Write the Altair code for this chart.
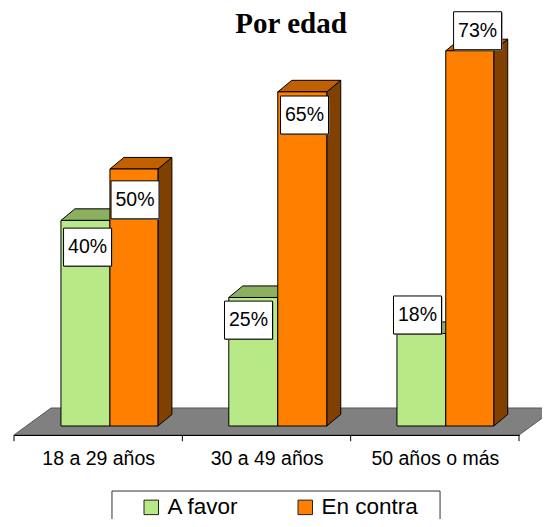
import altair as alt
import pandas as pd

categories = ["18 a 29 años", "30 a 49 años", "50 años o más"]
series = ["A favor", "En contra"]
a_favor = [40, 25, 18]
en_contra = [50, 65, 73]
# label box centres (percent units)
label_y_favor = [34.8, 20.6, 21.6]
label_y_contra = [44, 60.5, 76.9]
label_x_favor = [0.437, 0.393, 0.397]
label_x_contra = [0.719, 0.726, 0.754]

tick_values = [0, 1, 2, 3]
left_edge = [0.279, 0.276, 0.275]
mid_edge = [0.570, 0.567, 0.565]
right_edge = [0.855, 0.858, 0.850]

DX = 0.083   # depth in category units
DY = 2.25    # depth in percent units
FLOOR_FRONT = -1.75
FLOOR_BACK = 3.5
FLOOR_DX = 0.22
TICK_END = -2.95

GREEN, GREEN_TOP = "#B8E986", "#8DB060"
ORANGE, ORANGE_TOP, ORANGE_SIDE = "#FF8000", "#C06000", "#804000"
FONT = "Liberation Sans"

xs = alt.Scale(domain=[0, 3], nice=False, zero=False)
ys = alt.Scale(domain=[FLOOR_FRONT, 81.32], nice=False, zero=False)

label_map = " : ".join(
    f"datum.value < {i + 1} ? '{c}'" for i, c in enumerate(categories[:-1])
) + f" : '{categories[-1]}'"

X = alt.X("x:Q", scale=xs, title=None,
          axis=alt.Axis(values=[0.5, 1.5, 2.5], labelExpr=label_map, tickSize=0, grid=False,
                        domainColor="#000000", domainWidth=1, labelFont=FONT, labelFontSize=19.5,
                        labelColor="#000000", labelPadding=14, labelAngle=0, zindex=1))
Y = alt.Y("y:Q", scale=ys, title=None, axis=None)

floor_df = pd.DataFrame({"y": [FLOOR_FRONT, FLOOR_BACK], "x": [0, FLOOR_DX], "x2": [3, 3 + FLOOR_DX]})
floor = alt.Chart(floor_df).mark_area(orient="horizontal", color="#808080", stroke="#555555", strokeWidth=1).encode(
    y=Y, x=X, x2="x2:Q")

ticks = alt.Chart(pd.DataFrame({"x": tick_values, "y": [FLOOR_FRONT] * 4, "y2": [TICK_END] * 4})).mark_rule(
    color="#000000", strokeWidth=1).encode(x=X, y=Y, y2="y2:Q")

legend_box = alt.Chart(pd.DataFrame({"x": [0.582], "x2": [2.531], "y": [-12.65], "y2": [-25.0]})).mark_rect(
    color="#FFFFFF", stroke="#333333", strokeWidth=1).encode(x=X, x2="x2:Q", y=Y, y2="y2:Q")

color = alt.Color("s:N", scale=alt.Scale(domain=series, range=[GREEN, ORANGE]),
                  legend=alt.Legend(title=None, orient="none", legendX=126, legendY=488, direction="horizontal",
                                    padding=0, symbolType="square", symbolSize=210,
                                    symbolStrokeColor="#222222", symbolStrokeWidth=1,
                                    labelFont=FONT, labelFontSize=22.5, labelColor="#000000", columnPadding=55,
                                    labelOffset=5, zindex=1))
layers = [floor, ticks, legend_box]
front_rows = []
for i in range(3):
    for s, vals, x0, x1, top, side, front in [
        (series[0], a_favor, left_edge[i], mid_edge[i], GREEN_TOP, "#6E8F45", GREEN),
        (series[1], en_contra, mid_edge[i], right_edge[i], ORANGE_TOP, ORANGE_SIDE, ORANGE),
    ]:
        v = vals[i]
        a, b = i + x0, i + x1
        side_df = pd.DataFrame({"x": [b, b + DX], "y": [0, DY], "y2": [v, v + DY]})
        layers.append(alt.Chart(side_df).mark_area(color=side, stroke="#000000", strokeWidth=1).encode(
            x=X, y=Y, y2="y2:Q"))
        top_df = pd.DataFrame({"y": [v, v + DY], "x": [a, a + DX], "x2": [b, b + DX]})
        layers.append(alt.Chart(top_df).mark_area(orient="horizontal", color=top, stroke="#000000", strokeWidth=1).encode(
            y=Y, x=X, x2="x2:Q"))
        front_rows.append({"x": a, "x2": b, "y": 0, "y2": v, "s": s})

fronts = alt.Chart(pd.DataFrame(front_rows)).mark_rect(stroke="#000000", strokeWidth=1).encode(
    x=X, x2="x2:Q", y=Y, y2="y2:Q", color=color)
layers.append(fronts)

lab_rows = []
for i in range(3):
    lab_rows.append({"x": i + label_x_favor[i], "y": label_y_favor[i], "t": f"{a_favor[i]}%"})
    lab_rows.append({"x": i + label_x_contra[i], "y": label_y_contra[i], "t": f"{en_contra[i]}%"})
lab_df = pd.DataFrame(lab_rows)
shadow = alt.Chart(lab_df).mark_rect(width=48, height=38, color="#808080", xOffset=1, yOffset=1).encode(x=X, y=Y)
box = alt.Chart(lab_df).mark_rect(width=48, height=38, color="#FFFFFF", stroke="#000000", strokeWidth=1).encode(x=X, y=Y)
txt = alt.Chart(lab_df).mark_text(font=FONT, fontSize=19.5, color="#000000").encode(x=X, y=Y, text="t:N")
layers += [shadow, box, txt]

title_df = pd.DataFrame({"x": [1.646], "y": [76.4], "t": ["Por edad"]})
title = alt.Chart(title_df).mark_text(font="Liberation Serif", fontSize=29, fontWeight="bold", color="#000000",
                                      baseline="alphabetic").encode(x=X, y=Y, text="t:N")
layers.append(title)

chart = alt.layer(*layers).properties(
    width=505, height=427,
    padding={"left": 6, "top": 0, "right": 23, "bottom": 84},
    autosize=alt.AutoSizeParams(type="none"),
    background="#FFFFFF",
).configure_view(stroke=None)

chart.save("out.html", embed_options={"renderer": "svg", "actions": False})
